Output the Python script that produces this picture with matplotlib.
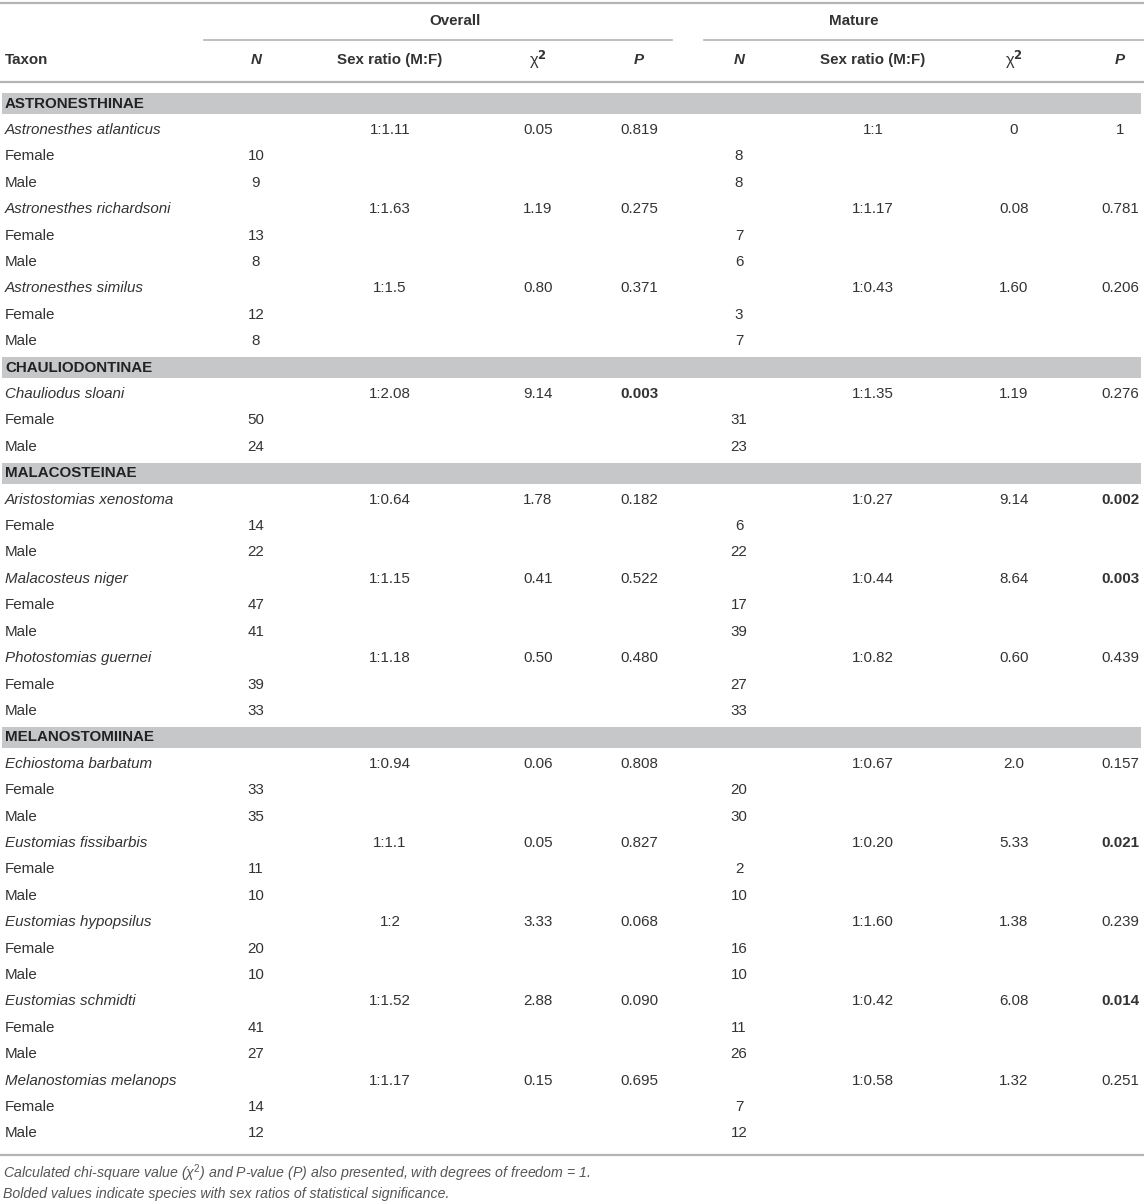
import matplotlib.pyplot as plt
from matplotlib.patches import Rectangle

plt.rcParams['font.family'] = ['Liberation Sans', 'DejaVu Sans']
plt.rcParams['mathtext.fontset'] = 'custom'
plt.rcParams['mathtext.rm'] = 'Liberation Sans'
plt.rcParams['mathtext.it'] = 'Liberation Sans:italic'

# table data
groups = ["ASTRONESTHINAE", "CHAULIODONTINAE", "MALACOSTEINAE", "MELANOSTOMIINAE"]
species = ["Astronesthes atlanticus", "Astronesthes richardsoni", "Astronesthes similus",
           "Chauliodus sloani",
           "Aristostomias xenostoma", "Malacosteus niger", "Photostomias guernei",
           "Echiostoma barbatum", "Eustomias fissibarbis", "Eustomias hypopsilus",
           "Eustomias schmidti", "Melanostomias melanops"]
species_group = [0, 0, 0, 1, 2, 2, 2, 3, 3, 3, 3, 3]

overall_female = [10, 13, 12, 50, 14, 47, 39, 33, 11, 20, 41, 14]
overall_male = [9, 8, 8, 24, 22, 41, 33, 35, 10, 10, 27, 12]
overall_ratio = ["1:1.11", "1:1.63", "1:1.5", "1:2.08", "1:0.64", "1:1.15", "1:1.18",
                 "1:0.94", "1:1.1", "1:2", "1:1.52", "1:1.17"]
overall_chi = ["0.05", "1.19", "0.80", "9.14", "1.78", "0.41", "0.50",
               "0.06", "0.05", "3.33", "2.88", "0.15"]
overall_p = ["0.819", "0.275", "0.371", "0.003", "0.182", "0.522", "0.480",
             "0.808", "0.827", "0.068", "0.090", "0.695"]

mature_female = [8, 7, 3, 31, 6, 17, 27, 20, 2, 16, 11, 7]
mature_male = [8, 6, 7, 23, 22, 39, 33, 30, 10, 10, 26, 12]
mature_ratio = ["1:1", "1:1.17", "1:0.43", "1:1.35", "1:0.27", "1:0.44", "1:0.82",
                "1:0.67", "1:0.20", "1:1.60", "1:0.42", "1:0.58"]
mature_chi = ["0", "0.08", "1.60", "1.19", "9.14", "8.64", "0.60",
              "2.0", "5.33", "1.38", "6.08", "1.32"]
mature_p = ["1", "0.781", "0.206", "0.276", "0.002", "0.003", "0.439",
            "0.157", "0.021", "0.239", "0.014", "0.251"]

W, H = 1144, 1204
fig = plt.figure(figsize=(W / 100, H / 100), dpi=100)
ax = fig.add_axes([0, 0, 1, 1])
ax.set_xlim(0, W)
ax.set_ylim(H, 0)
ax.axis('off')

txt = '#333333'
line_c = '#b4b4b4'
band_c = '#c6c7c9'
fs = 10.9

# column centres
col_x = {'n1': 256, 'r1': 390, 'c1': 538, 'p1': 639,
         'n2': 739, 'r2': 873, 'c2': 1014, 'p2': 1120}

# rules and headers
ax.plot([0, W], [3, 3], color=line_c, lw=1.6)
ax.text(455, 21, "Overall", ha='center', va='center', fontsize=fs, fontweight='bold', color=txt)
ax.text(854, 21, "Mature", ha='center', va='center', fontsize=fs, fontweight='bold', color=txt)
ax.plot([204, 672], [40, 40], color=line_c, lw=1.2)
ax.plot([704, W], [40, 40], color=line_c, lw=1.2)

hy = 60
ax.text(5, hy, "Taxon", ha='left', va='center', fontsize=fs, fontweight='bold', color=txt)
for k in ('1', '2'):
    ax.text(col_x['n' + k], hy, "N", ha='center', va='center', fontsize=fs,
            fontweight='bold', style='italic', color=txt)
    ax.text(col_x['r' + k], hy, "Sex ratio (M:F)", ha='center', va='center',
            fontsize=fs, fontweight='bold', color=txt)
    ax.text(col_x['c' + k], hy, "χ$^{\\mathbf{2}}$", ha='center', va='center',
            fontsize=fs + 1, color=txt)
    ax.text(col_x['p' + k], hy, "P", ha='center', va='center', fontsize=fs,
            fontweight='bold', style='italic', color=txt)
ax.plot([0, W], [82, 82], color=line_c, lw=1.6)

# body rows
y0, step = 103.5, 26.41
row = 0
prev_group = -1
for i, name in enumerate(species):
    g = species_group[i]
    if g != prev_group:
        y = y0 + row * step
        ax.add_patch(Rectangle((2, y - 10.5), 1139, 21, color=band_c, lw=0))
        ax.text(5, y, groups[g], ha='left', va='center', fontsize=fs,
                fontweight='bold', color='#222222')
        row += 1
        prev_group = g
    y = y0 + row * step
    ax.text(5, y, name, ha='left', va='center', fontsize=fs, style='italic', color=txt)
    vals = [('r1', overall_ratio[i]), ('c1', overall_chi[i]), ('p1', overall_p[i]),
            ('r2', mature_ratio[i]), ('c2', mature_chi[i]), ('p2', mature_p[i])]
    for key, v in vals:
        bold = key.startswith('p') and float(v) < 0.05
        ax.text(col_x[key], y, v, ha='center', va='center', fontsize=fs,
                fontweight='bold' if bold else 'normal', color=txt)
    row += 1
    for label, n1, n2 in (("Female", overall_female[i], mature_female[i]),
                          ("Male", overall_male[i], mature_male[i])):
        y = y0 + row * step
        ax.text(5, y, label, ha='left', va='center', fontsize=fs, color=txt)
        ax.text(col_x['n1'], y, str(n1), ha='center', va='center', fontsize=fs, color=txt)
        ax.text(col_x['n2'], y, str(n2), ha='center', va='center', fontsize=fs, color=txt)
        row += 1

ax.plot([0, W], [1155, 1155], color=line_c, lw=1.6)

ax.text(3, 1173, "Calculated chi-square value (χ$^{2}$) and P-value (P) also presented, "
        "with degrees of freedom = 1.", ha='left', va='center', fontsize=10.2,
        style='italic', color='#555555')
ax.text(3, 1194, "Bolded values indicate species with sex ratios of statistical significance.",
        ha='left', va='center', fontsize=10.2, style='italic', color='#555555')

fig.savefig('out.png', dpi=100)
